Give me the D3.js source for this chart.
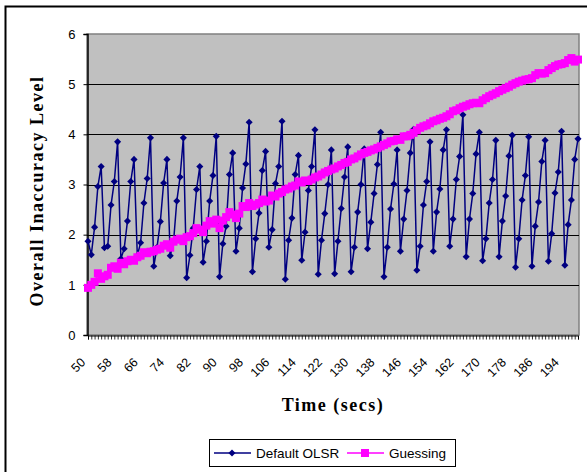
<!DOCTYPE html>
<html><head><meta charset="utf-8">
<script src="https://cdn.jsdelivr.net/npm/d3@7"></script>
<style>body{margin:0;background:#fff}svg{display:block}</style>
</head><body>
<svg id="c" width="587" height="472"></svg>
<script>
const times = d3.range(50, 200); // categories 50..199 (seconds)
const xTickLabels = [50,58,66,74,82,90,98,106,114,122,130,138,146,154,162,170,178,186,194];
const yTicks = [0,1,2,3,4,5,6];
const defaultOLSR = [
1.87,1.60,2.15,2.96,3.36,1.74,1.77,2.59,3.06,3.85,
1.52,1.72,2.27,3.06,3.50,1.58,1.84,2.63,3.12,3.93,
1.37,1.75,2.26,3.03,3.50,1.58,1.85,2.67,3.15,3.93,
1.14,1.59,2.13,2.90,3.36,1.45,1.87,2.67,3.18,3.96,
1.16,1.82,2.17,3.20,3.63,1.67,2.13,2.93,3.41,4.24,
1.26,1.92,2.43,3.28,3.66,1.75,2.10,3.02,3.36,4.26,
1.11,1.89,2.33,3.20,3.58,1.49,2.05,2.88,3.36,4.09,
1.21,1.89,2.42,3.00,3.69,1.22,1.87,2.52,3.15,3.75,
1.26,1.75,2.45,3.00,3.71,1.72,2.25,2.82,3.40,4.04,
1.16,1.75,2.51,3.01,3.69,1.67,2.31,2.88,3.63,4.10,
1.29,1.77,2.59,3.06,3.85,1.67,2.45,2.91,3.69,4.09,
1.77,2.31,3.10,3.56,4.39,1.56,2.31,2.82,3.61,4.04,
1.48,1.92,2.63,3.10,3.88,1.56,2.27,2.77,3.57,3.98,
1.35,1.92,2.69,3.18,3.95,1.37,2.17,2.65,3.46,3.88,
1.47,2.02,2.83,3.25,4.06,1.39,2.20,2.69,3.50,3.91];
const guessing = [
0.94,1.00,1.06,1.23,1.12,1.17,1.20,1.34,1.37,1.32,
1.44,1.41,1.47,1.50,1.48,1.55,1.58,1.65,1.63,1.66,
1.67,1.70,1.72,1.78,1.81,1.74,1.86,1.90,1.92,1.87,
1.95,1.97,2.03,2.13,2.10,2.05,2.18,2.27,2.22,2.30,
2.13,2.28,2.35,2.45,2.40,2.33,2.42,2.57,2.55,2.63,
2.57,2.60,2.63,2.70,2.66,2.68,2.78,2.76,2.82,2.85,
2.90,2.92,2.96,2.98,3.06,3.04,3.08,3.07,3.10,3.14,
3.16,3.20,3.24,3.27,3.30,3.32,3.36,3.39,3.43,3.45,
3.50,3.52,3.56,3.60,3.63,3.65,3.68,3.70,3.73,3.76,
3.79,3.82,3.86,3.87,3.90,3.89,3.96,3.96,3.99,4.03,
4.08,4.13,4.16,4.18,4.22,4.26,4.28,4.31,4.33,4.36,
4.40,4.46,4.48,4.52,4.55,4.57,4.60,4.62,4.63,4.62,
4.68,4.72,4.76,4.79,4.82,4.86,4.89,4.92,4.95,4.99,
5.02,5.05,5.07,5.09,5.10,5.12,5.18,5.22,5.21,5.22,
5.28,5.32,5.36,5.39,5.40,5.42,5.48,5.52,5.45,5.49];
const seriesNames = ["Default OLSR", "Guessing"];
const colors = ["#000080", "#FF00FF"];

const svg = d3.select("#c");
const L = 87, R = 579, T = 34, B = 335;

// outer chart border
svg.append("rect").attr("x",5.5).attr("y",6.5).attr("width",600).attr("height",500)
  .attr("fill","none").attr("stroke","#000").attr("stroke-width",2);

const x = d3.scalePoint().domain(times).range([L+1, R-1]);
const y = d3.scaleLinear().domain([0,6]).range([B, T]);

// plot area
svg.append("rect").attr("x",L).attr("y",T).attr("width",R-L).attr("height",B-T)
  .attr("fill","#C0C0C0").attr("stroke","#808080").attr("stroke-width",1.5);

// gridlines
svg.append("g").selectAll("line").data(yTicks.filter(d=>d>0&&d<6)).join("line")
  .attr("x1",L).attr("x2",R).attr("y1",d=>Math.round(y(d))+0.5).attr("y2",d=>Math.round(y(d))+0.5)
  .attr("stroke","#000").attr("stroke-width",1);

// y axis
const yAx = svg.append("g").attr("transform",`translate(${L+0.5},0)`)
  .call(d3.axisLeft(y).tickValues(yTicks).tickFormat(d3.format("d")).tickSize(4).tickPadding(8));
yAx.select(".domain").attr("stroke","#000").attr("stroke-width",1.5);
yAx.selectAll("line").attr("stroke","#000");
yAx.selectAll("text").attr("font-family","Liberation Sans, Arial, sans-serif").attr("font-size",13).attr("fill","#000");

// x axis (ticks at every category, labels added separately)
const xAx = svg.append("g").attr("transform",`translate(0,${B+0.5})`)
  .call(d3.axisBottom(x).tickValues(times).tickSize(4).tickFormat(""));
xAx.select(".domain").attr("stroke","#000").attr("stroke-width",1);
xAx.selectAll(".tick line").attr("stroke","#000").attr("stroke-width",0.8);
svg.append("g").selectAll("text").data(xTickLabels).join("text")
  .attr("transform",d=>`translate(${x(d)-5},${B+25}) rotate(-45)`)
  .attr("text-anchor","end").attr("dy","0.35em")
  .attr("font-family","Liberation Sans, Arial, sans-serif").attr("font-size",12.5).attr("fill","#000")
  .text(d=>d);

// lines
const data = [defaultOLSR, guessing];
const line = d3.line().x((d,i)=>x(times[i])).y(d=>y(d));
data.forEach((s,k)=>{
  svg.append("path").datum(s).attr("d",line).attr("fill","none").attr("stroke",colors[k]).attr("stroke-width",1.5);
});
// markers
svg.append("g").selectAll("path").data(defaultOLSR).join("path")
  .attr("d",d3.symbol().type(d3.symbolDiamond2).size(32))
  .attr("transform",(d,i)=>`translate(${x(times[i])},${y(d)})`).attr("fill",colors[0]);
svg.append("g").selectAll("rect").data(guessing).join("rect")
  .attr("x",(d,i)=>x(times[i])-4).attr("y",d=>y(d)-4).attr("width",8).attr("height",8).attr("fill",colors[1]);

// axis titles
svg.append("text").attr("x",333).attr("y",411).attr("text-anchor","middle")
  .attr("font-family","Liberation Serif, Times New Roman, serif").attr("font-weight","bold").attr("font-size",18)
  .attr("letter-spacing",1.5).text("Time (secs)");
svg.append("text").attr("transform","translate(43,191) rotate(-90)").attr("text-anchor","middle")
  .attr("font-family","Liberation Serif, Times New Roman, serif").attr("font-weight","bold").attr("font-size",18)
  .attr("letter-spacing",1.5).text("Overall Inaccuracy Level");

// legend
const lg = svg.append("g");
lg.append("rect").attr("x",209.5).attr("y",439.5).attr("width",246).attr("height",27).attr("fill","#fff").attr("stroke","#000");
const lx = [214, 347];
seriesNames.forEach((n,k)=>{
  lg.append("line").attr("x1",lx[k]).attr("x2",lx[k]+37).attr("y1",453).attr("y2",453).attr("stroke",colors[k]).attr("stroke-width",1.5);
  if(k===0) lg.append("path").attr("d",d3.symbol().type(d3.symbolDiamond2).size(32)).attr("transform",`translate(${lx[k]+18},453)`).attr("fill",colors[k]);
  else lg.append("rect").attr("x",lx[k]+18-4).attr("y",453-4).attr("width",8).attr("height",8).attr("fill",colors[k]);
  lg.append("text").attr("x",lx[k]+42).attr("y",458).attr("font-family","Liberation Sans, Arial, sans-serif").attr("font-size",13.5).text(n);
});
</script>
</body></html>
